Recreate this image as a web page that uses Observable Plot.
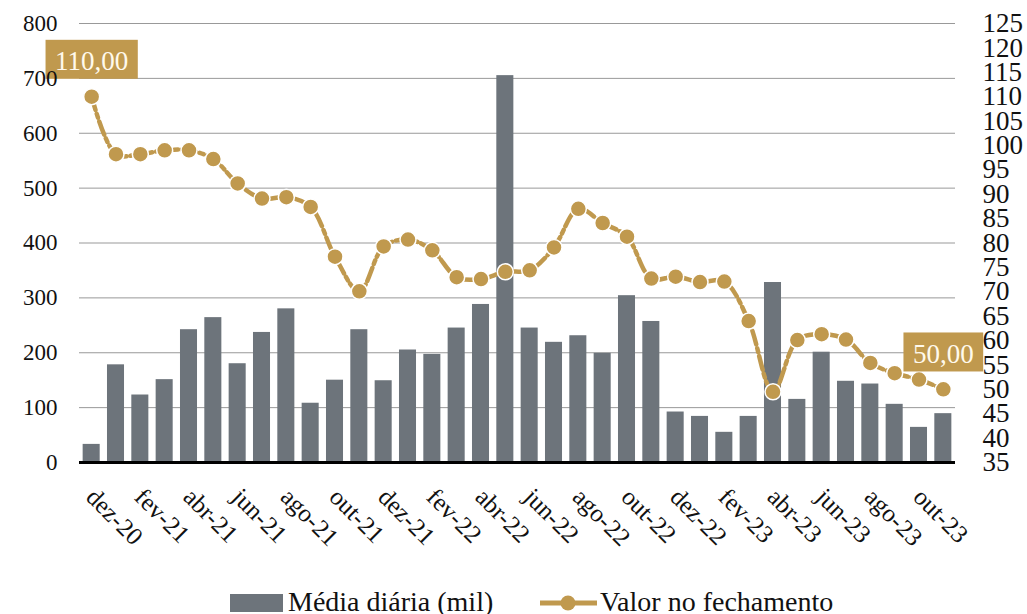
<!DOCTYPE html>
<html>
<head>
<meta charset="utf-8">
<script src="https://cdn.jsdelivr.net/npm/d3@7"></script>
<script src="https://cdn.jsdelivr.net/npm/@observablehq/plot@0.6"></script>
<style>
  html, body { margin: 0; padding: 0; background: #fff; }
  #chart svg { display: block; }
  #legend { display: block; }
</style>
</head>
<body>
<div id="chart"></div>
<svg id="legend" width="1027" height="39"></svg>
<script>
const months = ["dez-20","jan-21","fev-21","mar-21","abr-21","mai-21","jun-21","jul-21","ago-21","set-21","out-21","nov-21",
  "dez-21","jan-22","fev-22","mar-22","abr-22","mai-22","jun-22","jul-22","ago-22","set-22","out-22","nov-22",
  "dez-22","jan-23","fev-23","mar-23","abr-23","mai-23","jun-23","jul-23","ago-23","set-23","out-23","nov-23"];
const volume = [33,178,123,151,242,264,180,237,280,108,150,242,149,205,197,245,288,705,245,219,231,199,304,257,92,84,55,84,328,115,201,148,143,106,64,89];
const closeValue = [110,98.2,98.2,99,99,97.2,92.2,89.1,89.4,87.4,77.2,70.1,79.3,80.7,78.5,73,72.6,74.1,74.4,79.1,87,84.1,81.3,72.7,73.1,72,72.1,64,49.5,60.1,61.3,60.2,55.4,53.3,52,50];
const leftTicks = [0,100,200,300,400,500,600,700,800];
const rightTicks = [35,40,45,50,55,60,65,70,75,80,85,90,95,100,105,110,115,120,125];
const xTickLabels = ["dez-20","fev-21","abr-21","jun-21","ago-21","out-21","dez-21","fev-22","abr-22","jun-22","ago-22","out-22","dez-22","fev-23","abr-23","jun-23","ago-23","out-23"];
const seriesNames = ["Média diária (mil)", "Valor no fechamento"];

const gold = "#C0994E";
const gray = "#6D747B";
const rightMin = 35, rightMax = 125, leftMax = 800;
const toLeft = v => (v - rightMin) * leftMax / (rightMax - rightMin);
const fromLeft = v => v * (rightMax - rightMin) / leftMax + rightMin;

const data = months.map((m, i) => ({month: m, volume: volume[i], close: closeValue[i]}));
const fmt = v => v.toFixed(2).replace(".", ",");

const chart = Plot.plot({
  width: 1027,
  height: 575,
  marginTop: 23,
  marginBottom: 113,
  marginLeft: 79,
  marginRight: 72,
  style: {fontFamily: "'Liberation Serif', serif", fontSize: "23px", color: "#111", background: "#fff", overflow: "visible"},
  x: {type: "band", domain: months, paddingInner: 0.3, paddingOuter: 0.15, round: false},
  y: {domain: [0, 800]},
  marks: [
    Plot.gridY(leftTicks, {stroke: "#999", strokeOpacity: 1, strokeWidth: 1}),
    Plot.barY(data, {x: "month", y: "volume", fill: gray}),
    Plot.ruleY([0], {stroke: "#000", strokeWidth: 3}),
    Plot.line(data, {x: "month", y: d => toLeft(d.close), stroke: gold, strokeWidth: 4.5, strokeDasharray: "14,4,4,4", curve: "catmull-rom"}),
    Plot.dot(data, {x: "month", y: d => toLeft(d.close), r: 8, fill: gold, stroke: "#fff", strokeWidth: 1.5}),
    Plot.text(data, {filter: (d, i) => i === 0 || i === data.length - 1, x: "month", y: d => toLeft(d.close), text: d => fmt(d.close), dy: -35, fill: "#FFF9EC", fontSize: 27}),
    Plot.axisY(leftTicks, {anchor: "left", tickSize: 0, tickPadding: 22, fontSize: 23, label: null}),
    Plot.axisY(rightTicks.map(toLeft), {anchor: "right", tickSize: 0, tickPadding: 27, textAnchor: "start", fontSize: 27, tickFormat: d => String(Math.round(fromLeft(d))), label: null}),
    Plot.axisX(xTickLabels, {anchor: "bottom", tickSize: 0, tickPadding: 0, tickRotate: 45, textAnchor: "start", lineAnchor: "bottom", dx: -7, dy: 36, fontSize: 25, label: null})
  ]
});
document.getElementById("chart").appendChild(chart);

// gold background boxes behind the value labels
chart.querySelectorAll('g[aria-label="text"] text').forEach(t => {
  const b = t.getBBox();
  const padX = 9.5, h = 39;
  const cy = b.y + b.height / 2 - 2;
  const r = document.createElementNS("http://www.w3.org/2000/svg", "rect");
  r.setAttribute("x", b.x - padX);
  r.setAttribute("y", cy - h / 2);
  r.setAttribute("width", b.width + 2 * padX);
  r.setAttribute("height", h);
  r.setAttribute("fill", gold);
  if (t.getAttribute("transform")) r.setAttribute("transform", t.getAttribute("transform"));
  t.parentNode.insertBefore(r, t);
});

// legend
const lg = d3.select("#legend").style("font-family", "'Liberation Serif', serif").style("font-size", "28px");
lg.append("rect").attr("x", 230).attr("y", 19).attr("width", 53).attr("height", 18).attr("fill", gray);
lg.append("text").attr("x", 288).attr("y", 36).attr("fill", "#111").text(seriesNames[0]);
lg.append("line").attr("x1", 540).attr("x2", 597).attr("y1", 28).attr("y2", 28).attr("stroke", gold).attr("stroke-width", 5);
lg.append("circle").attr("cx", 568).attr("cy", 28).attr("r", 7.5).attr("fill", gold);
lg.append("text").attr("x", 600).attr("y", 36).attr("fill", "#111").text(seriesNames[1]);
</script>
</body>
</html>
